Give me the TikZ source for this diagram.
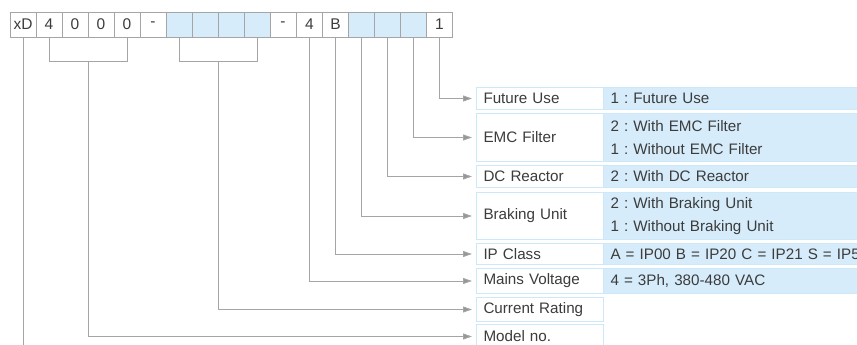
\documentclass[tikz,border=0pt]{standalone}
\usepackage{fontspec}
\setmainfont{Liberation Sans}
\usepackage{xcolor}
\usepackage{tikz}
\usetikzlibrary{positioning, arrows.meta}
\definecolor{CellBlue}{RGB}{214,236,250}
\definecolor{EdgeBlue}{RGB}{205,232,248}
\definecolor{CellGray}{RGB}{165,165,165}
\definecolor{LineGray}{RGB}{165,165,165}
\definecolor{TipGray}{RGB}{150,150,150}
\definecolor{InkGray}{RGB}{60,60,60}
\frenchspacing
\tikzset{
  codecell/.style={draw=CellGray, line width=0.9pt, minimum width=26pt, minimum height=25pt,
    inner sep=0pt, font=\fontsize{15.5}{17}\selectfont, text=InkGray},
  blankcell/.style={codecell, fill=CellBlue},
  fieldbox/.style={draw=EdgeBlue, line width=1pt, fill=white, anchor=north west,
    text width=113pt, inner xsep=7pt, inner ysep=0pt, align=left,
    font=\fontsize{15.2}{23}\selectfont, text=InkGray},
  valuebox/.style={draw=EdgeBlue, line width=1pt, fill=CellBlue, anchor=north west,
    text width=300pt, inner xsep=7pt, inner ysep=0pt, align=left,
    font=\fontsize{15.2}{23}\selectfont, text=InkGray},
  leader/.style={draw=LineGray, line width=0.9pt},
  pointer/.style={leader, -{Triangle[length=9pt, width=6pt, fill=TipGray]}, shorten >=4pt},
}

\begin{document}
\begin{tikzpicture}[x=1pt, y=-1pt]
  \useasboundingbox (0,0) rectangle (857,345);
  \clip (0,0) rectangle (857,345);
  % code cells
  \node[codecell] (c0) at (23,24.5) {xD};
  \node[codecell] (c1) at (49,24.5) {4};
  \node[codecell] (c2) at (75,24.5) {0};
  \node[codecell] (c3) at (101,24.5) {0};
  \node[codecell] (c4) at (127,24.5) {0};
  \node[codecell] (c5) at (153,24.5) {-};
  \node[blankcell] (c6) at (179,24.5) {};
  \node[blankcell] (c7) at (205,24.5) {};
  \node[blankcell] (c8) at (231,24.5) {};
  \node[blankcell] (c9) at (257,24.5) {};
  \node[codecell] (c10) at (283,24.5) {-};
  \node[codecell] (c11) at (309.5,24.5) {4};
  \node[codecell] (c12) at (335.5,24.5) {B};
  \node[blankcell] (c13) at (361.5,24.5) {};
  \node[blankcell] (c14) at (387.5,24.5) {};
  \node[blankcell] (c15) at (413.5,24.5) {};
  \node[codecell] (c16) at (439.5,24.5) {1};

  % field names
  \node[fieldbox, minimum height=22pt] (fu) at (476,87) {Future Use};
  \node[fieldbox, minimum height=48pt] (emc) at (476,113) {EMC Filter};
  \node[fieldbox, minimum height=22pt] (dcr) at (476,165) {DC Reactor};
  \node[fieldbox, minimum height=47pt] (bu) at (476,192) {Braking Unit};
  \node[fieldbox, minimum height=21pt] (ipc) at (476,243) {IP Class};
  \node[fieldbox, minimum height=25pt] (mv) at (476,268) {Mains Voltage};
  \node[fieldbox, minimum height=24pt] (cr) at (476,297) {Current Rating};
  \node[fieldbox, minimum height=24pt] (mn) at (476,324) {Model no.};

  % field values
  \node[valuebox, minimum height=22pt] (fuv) at (603,87) {1 : Future Use};
  \node[valuebox, minimum height=48pt] (emcv) at (603,113) {2 : With EMC Filter\\1 : Without EMC Filter};
  \node[valuebox, minimum height=22pt] (dcrv) at (603,165) {2 : With DC Reactor};
  \node[valuebox, minimum height=47pt] (buv) at (603,192) {2 : With Braking Unit\\1 : Without Braking Unit};
  \node[valuebox, minimum height=21pt] (ipcv) at (603,243) {A = IP00 B = IP20 C = IP21 S = IP55};
  \node[valuebox, minimum height=25pt] (mvv) at (603,268) {4 = 3Ph, 380-480 VAC};

  % brackets under the grouped cells
  \draw[leader] (c1.south) -- ++(0,24) -| (c4.south);
  \draw[leader] (c6.south) -- ++(0,24) -| (c9.south);
  \coordinate (m1) at (88,61.5);
  \coordinate (m2) at (218,61.5);
  \coordinate (xdend) at (23,345);

  % connectors
  \draw[leader] (c0.south) -- (xdend);
  \draw[pointer] (c16.south) |- (fu.west);
  \draw[pointer] (c15.south) |- (emc.west);
  \draw[pointer] (c14.south) |- (dcr.west);
  \draw[pointer] (c13.south) |- (bu.west);
  \draw[pointer] (c12.south) |- (ipc.west);
  \draw[pointer] (c11.south) |- (mv.west);
  \draw[pointer] (m2) |- (cr.west);
  \draw[pointer] (m1) |- (mn.west);
\end{tikzpicture}
\end{document}
